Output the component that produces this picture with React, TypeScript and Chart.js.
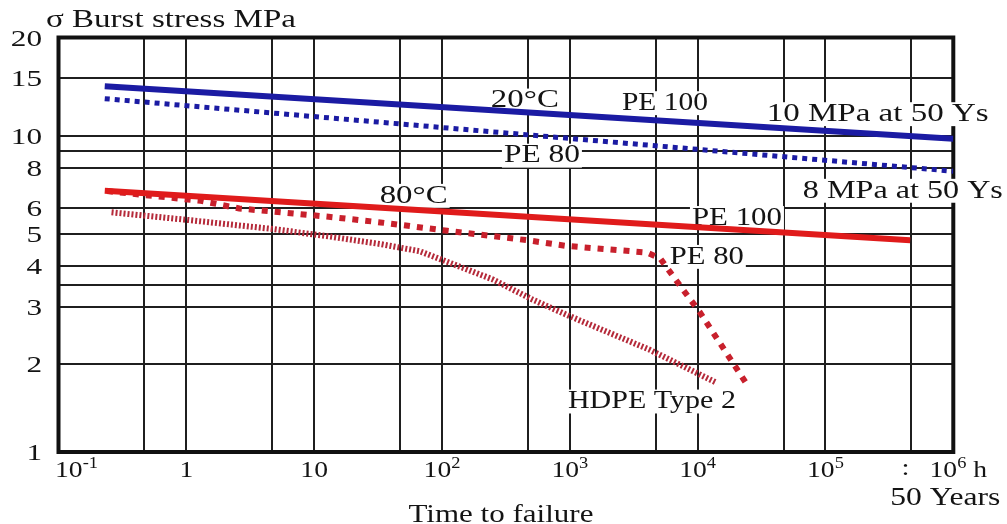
import React, { useEffect, useRef } from "react";
import { Chart, registerables } from "chart.js";

Chart.register(...registerables);

// ---- Data (time to failure in hours, burst stress in MPa) ----
const pe100_20C_time = [0.23, 1e6];
const pe100_20C_stress = [14.2, 9.8];
const pe80_20C_time = [0.23, 1e6];
const pe80_20C_stress = [13.0, 7.8];
const pe100_80C_time = [0.23, 4.6e5];
const pe100_80C_stress = [6.8, 4.8];
const pe80_80C_time = [0.24, 1.3, 2.6, 13, 33, 110, 460, 940, 4000, 5100, 6400, 10400, 23800];
const pe80_80C_stress = [6.78, 6.33, 6.0, 5.66, 5.44, 5.13, 4.8, 4.61, 4.4, 4.22, 3.73, 2.89, 1.76];
const hdpe_time = [0.26, 1, 4.8, 13, 33, 67, 250, 510, 1000, 4200, 14000];
const hdpe_stress = [5.84, 5.54, 5.19, 4.93, 4.67, 4.44, 3.64, 3.16, 2.81, 2.22, 1.76];

// ---- Axes ----
const xMin = 0.1;
const xMax = 1e6;
const yMin = 1.08; // bottom line of the grid (labelled "1")
const yMax = 20;
const xGridValues = [0.1, 0.47, 1, 4.7, 10, 47, 100, 470, 1e3, 4.7e3, 1e4, 4.7e4, 1e5, 4.7e5, 1e6];
const xTickValues = [0.1, 1, 10, 100, 1e3, 1e4, 1e5, 1e6];
const xTickLabels = ["10^-1", "1", "10", "10^2", "10^3", "10^4", "10^5", "10^6 h"];
const fiftyYears = 50 * 8760;
const yGridValues = [yMin, 2, 3, 3.5, 4, 5, 6, 8, 9, 10, 15, 20];
const yTickValues = [1, 2, 3, 4, 5, 6, 8, 10, 15, 20];
const yTickLabels = ["1", "2", "3", "4", "5", "6", "8", "10", "15", "20"];

const titleText = "σ Burst stress MPa";
const xTitleText = "Time to failure";
const fiftyText = "50 Years";

const noteTexts = ["20°C", "PE 100", "10 MPa at 50 Ys", "PE 80", "8 MPa at 50 Ys", "80°C", "PE 100", "PE 80", "HDPE Type 2"];

const FONT = '"Liberation Serif", "Times New Roman", serif';
const TEXT_COLOR = "#141414";

function pts(t: number[], s: number[]) {
  return t.map((v, i) => ({ x: v, y: s[i] }));
}

function drawText(
  ctx: CanvasRenderingContext2D,
  text: string,
  x: number,
  baseline: number,
  size: number,
  opts: { width?: number; sx?: number; align?: "left" | "center" | "right"; bg?: boolean } = {}
) {
  ctx.save();
  ctx.font = `${size}px ${FONT}`;
  const m = ctx.measureText(text).width;
  const sx = opts.width ? opts.width / m : opts.sx ?? 1;
  const w = m * sx;
  const align = opts.align ?? "center";
  const left = align === "center" ? x - w / 2 : align === "left" ? x : x - w;
  if (opts.bg) {
    ctx.fillStyle = "#ffffff";
    ctx.fillRect(left - 2, baseline - size * 0.72, w + 4, size * 0.92);
  }
  ctx.translate(left, baseline);
  ctx.scale(sx, 1);
  ctx.textAlign = "left";
  ctx.textBaseline = "alphabetic";
  ctx.fillStyle = TEXT_COLOR;
  ctx.fillText(text, 0, 0);
  ctx.restore();
}

function drawPowerLabel(ctx: CanvasRenderingContext2D, label: string, cx: number, baseline: number) {
  const m = /^(\d+)(?:\^(-?\d+))?(.*)$/.exec(label);
  const base = m ? m[1] : label;
  const exp = m && m[2] ? m[2] : "";
  const suffix = m ? m[3] : "";
  const sx = 1.15;
  const bigSize = 24;
  const smallSize = 16;
  ctx.save();
  ctx.font = `${bigSize}px ${FONT}`;
  const wBase = ctx.measureText(base).width * sx;
  const wSuf = ctx.measureText(suffix).width * sx;
  ctx.font = `${smallSize}px ${FONT}`;
  const wExp = ctx.measureText(exp).width * sx;
  ctx.restore();
  const total = wBase + wExp + wSuf;
  let left = cx - total / 2;
  drawText(ctx, base, left, baseline, bigSize, { sx, align: "left" });
  left += wBase;
  if (exp) drawText(ctx, exp, left, baseline - 9, smallSize, { sx, align: "left" });
  left += wExp;
  if (suffix) drawText(ctx, suffix, left, baseline, bigSize, { sx, align: "left" });
}

const textPlugin = {
  id: "texts",
  beforeDatasetsDraw(chart: any) {
    const { ctx, chartArea: ca, scales } = chart;
    const xs = scales.x;
    const ys = scales.y;

    // frame
    ctx.save();
    ctx.strokeStyle = "#111";
    ctx.lineWidth = 4;
    ctx.strokeRect(ca.left, ca.top, ca.right - ca.left, ca.bottom - ca.top);
    ctx.restore();

    // y tick labels
    yTickValues.forEach((v, i) => {
      const py = ys.getPixelForValue(Math.max(v, yMin));
      drawText(ctx, yTickLabels[i], ca.left - 16.5, py + 8, 24, { sx: 1.3, align: "right" });
    });

    // x tick labels
    const xBase = ca.bottom + 25;
    xTickValues.forEach((v, i) => {
      let px = xs.getPixelForValue(v);
      if (i === 0) px += 18;
      if (i === xTickValues.length - 1) px += 5;
      drawPowerLabel(ctx, xTickLabels[i], px, xBase);
    });
    drawText(ctx, ":", xs.getPixelForValue(fiftyYears) - 2, xBase - 2, 24, { sx: 1.2 });
    drawText(ctx, fiftyText, xs.getPixelForValue(xMax) - 8, ca.bottom + 53, 25, { width: 110 });

    // titles
    drawText(ctx, titleText, 46, 27, 25, { width: 250, align: "left" });
    drawText(ctx, xTitleText, (ca.left + ca.right) / 2 - 5, ca.bottom + 70, 26, { width: 185 });

    // curve annotations (anchored in data coordinates)
    const notes = [
      { t: 445, s: 12.99, w: 68 },
      { t: 5550, s: 12.75, w: 86 },
      { t: 2.56e5, s: 11.8, w: 222 },
      { t: 605, s: 8.81, w: 76 },
      { t: 4.03e5, s: 6.88, w: 200 },
      { t: 60, s: 6.64, w: 68 },
      { t: 20300, s: 5.68, w: 90 },
      { t: 11800, s: 4.32, w: 74 },
      { t: 4390, s: 1.56, w: 168 },
    ];
    notes.forEach((n, i) => {
      const px = xs.getPixelForValue(n.t);
      const py = ys.getPixelForValue(n.s);
      drawText(ctx, noteTexts[i], px, py + 8.5, 26, { width: n.w, bg: true });
    });
  },
};

export default function App() {
  const ref = useRef<HTMLCanvasElement | null>(null);

  useEffect(() => {
    if (!ref.current) return;
    const blue = "#1b1ba3";
    const red = "#e01b1b";
    const darkRed = "#c8202c";
    const chart = new Chart(ref.current, {
      type: "line",
      data: {
        datasets: [
          { label: "PE 100 20°C", data: pts(pe100_20C_time, pe100_20C_stress), borderColor: blue, borderWidth: 6, pointRadius: 0, borderCapStyle: "butt" },
          { label: "PE 80 20°C", data: pts(pe80_20C_time, pe80_20C_stress), borderColor: blue, borderWidth: 5, borderDash: [5, 5], pointRadius: 0, borderCapStyle: "butt" },
          { label: "PE 100 80°C", data: pts(pe100_80C_time, pe100_80C_stress), borderColor: red, borderWidth: 6, pointRadius: 0, borderCapStyle: "butt" },
          { label: "PE 80 80°C", data: pts(pe80_80C_time, pe80_80C_stress), borderColor: darkRed, borderWidth: 6, borderDash: [6, 7], pointRadius: 0, borderCapStyle: "butt" },
          { label: "HDPE Type 2", data: pts(hdpe_time, hdpe_stress), borderColor: "#b52a3a", borderWidth: 6, borderDash: [2, 2], pointRadius: 0, borderCapStyle: "butt" },
        ],
      },
      options: {
        responsive: false,
        animation: false,
        devicePixelRatio: 1,
        layout: { padding: { left: 0, top: 37.5, right: 53.7, bottom: 0 } },
        plugins: { legend: { display: false }, tooltip: { enabled: false }, title: { display: false } },
        elements: { line: { tension: 0 } },
        scales: {
          x: {
            type: "logarithmic",
            min: xMin,
            max: xMax,
            afterBuildTicks: (s: any) => {
              s.ticks = xGridValues.map((v) => ({ value: v }));
            },
            afterFit: (s: any) => {
              s.height = 72;
            },
            ticks: { display: false },
            grid: { color: "#1f1f1f", lineWidth: 2, drawTicks: false },
            border: { display: false },
          },
          y: {
            type: "logarithmic",
            min: yMin,
            max: yMax,
            afterBuildTicks: (s: any) => {
              s.ticks = yGridValues.map((v) => ({ value: v }));
            },
            afterFit: (s: any) => {
              s.width = 58.5;
            },
            ticks: { display: false },
            grid: { color: "#1f1f1f", lineWidth: 2, drawTicks: false },
            border: { display: false },
          },
        },
      } as any,
      plugins: [textPlugin],
    });
    return () => chart.destroy();
  }, []);

  return (
    <div style={{ position: "fixed", left: 0, top: 0, width: 1007, height: 524, background: "#fff" }}>
      <canvas ref={ref} width={1007} height={524} />
    </div>
  );
}
